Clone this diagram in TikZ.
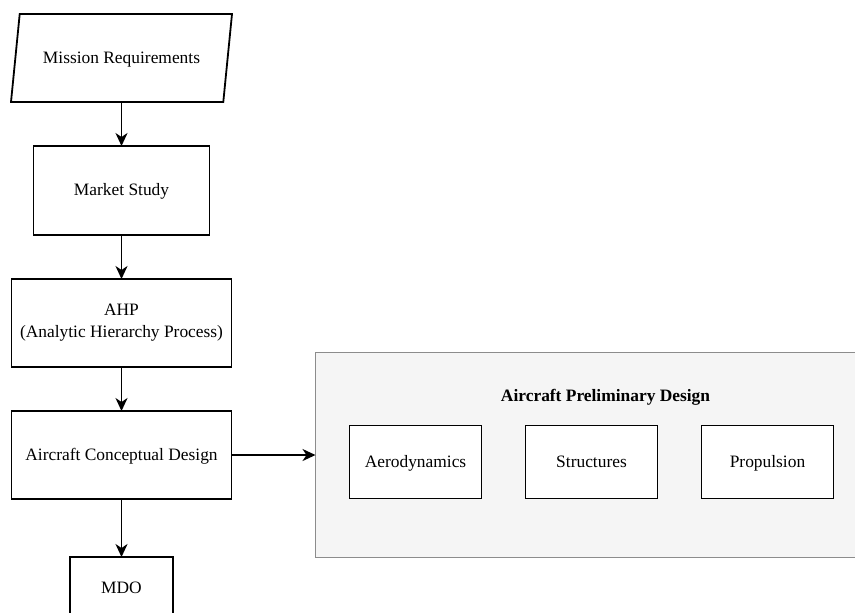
\documentclass[tikz,border=0pt]{standalone}
\usepackage{fontspec}
\setmainfont{Liberation Serif}
\usetikzlibrary{positioning,arrows.meta,shapes.geometric}
\usepackage{xcolor}
\definecolor{gfill}{RGB}{245,245,245}
\definecolor{gline}{RGB}{140,140,140}

\begin{document}
\begin{tikzpicture}[x=0.5pt,y=-0.5pt,font=\fontsize{8.7}{11}\selectfont,
    box/.style={draw,line width=0.9pt,fill=white,align=center,inner sep=2pt,outer sep=0pt},
    oneline/.style={text height=1.6ex,text depth=0.45ex},
    link/.style={-{Stealth[length=6.5pt,width=6pt,inset=2pt]},line width=0.9pt}]
    \useasboundingbox (0,0) rectangle (855,612);
    \node[box,oneline,trapezium,trapezium left angle=72,trapezium right angle=108,trapezium stretches body,minimum width=110.5pt,minimum height=44pt] (mr) at (121.5,58) {Mission Requirements};
    \node[box,oneline,minimum width=88pt,minimum height=44.5pt,below=22pt of mr] (ms) {Market Study};
    \node[box,minimum width=110pt,minimum height=44pt,below=22pt of ms] (ahp) {AHP\\(Analytic Hierarchy Process)};
    \node[box,oneline,minimum width=110pt,minimum height=44pt,below=22pt of ahp] (acd) {Aircraft Conceptual Design};
    \node[box,oneline,minimum width=51.5pt,minimum height=31pt,below=29pt of acd] (mdo) {MDO};
    \node[draw=gline,fill=gfill,line width=0.9pt,outer sep=0pt,minimum width=290pt,minimum height=102.5pt,right=42pt of acd] (apd) {};
    \node[font=\fontsize{8.7}{11}\selectfont\bfseries] (apdt) at ([yshift=-22.5pt]apd.north) {Aircraft Preliminary Design};
    \node[box,oneline,minimum width=66pt,minimum height=36.5pt,anchor=west] (aero) at ([xshift=17pt,yshift=-3.5pt]apd.west) {Aerodynamics};
    \node[box,oneline,minimum width=66pt,minimum height=36.5pt,right=22pt of aero] (struc) {Structures};
    \node[box,oneline,minimum width=66pt,minimum height=36.5pt,right=22pt of struc] (prop) {Propulsion};
    \draw[link] (mr.south) -- (ms.north);\draw[link] (ms) -- (ahp);
    \draw[link] (ahp) -- (acd);\draw[link] (acd) -- (mdo);
    \draw[link] (acd.east) -- (acd.east -| apd.west);
\end{tikzpicture}
\end{document}
